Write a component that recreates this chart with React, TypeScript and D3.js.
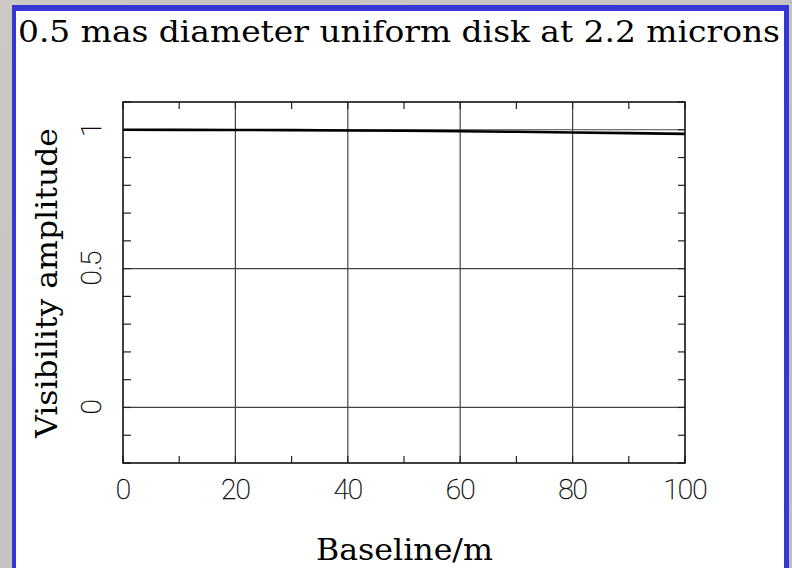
import React from "react";
import * as d3 from "d3";

const W = 792;
const H = 568;

// Visibility of a 0.5 mas uniform disk at 2.2 microns against baseline length
const baselines = [0, 10, 20, 30, 40, 50, 60, 70, 80, 90, 100];
const visibility = [1.0, 0.9998, 0.9994, 0.9987, 0.9976, 0.9963, 0.9946, 0.9927, 0.9904, 0.9879, 0.9851];

const xMajorTicks = [0, 20, 40, 60, 80, 100];
const xTickLabels = ["0", "20", "40", "60", "80", "100"];
const yMajorTicks = [0, 0.5, 1];
const yTickLabels = ["0", "0.5", "1"];

const titleText = "0.5 mas diameter uniform disk at 2.2 microns";
const xLabelText = "Baseline/m";
const yLabelText = "Visibility amplitude";

export default function App() {
  const left = 123;
  const right = 685;
  const top = 102;
  const bottom = 463;

  const x = d3.scaleLinear().domain([0, 100]).range([left, right]);
  const y = d3.scaleLinear().domain([-0.2, 1.1]).range([bottom, top]);

  const xMinor = d3.range(0, 101, 10);
  const yMinor = d3.range(-0.2, 1.1001, 0.1).map((v) => Math.round(v * 10) / 10);

  const line = d3
    .line<number>()
    .x((_, i) => x(baselines[i]))
    .y((d) => y(d));

  const serif = "'DejaVu Serif', serif";
  const thin = "Roboto, 'Liberation Sans', sans-serif";
  const tickLen = 7;

  return (
    <div style={{ position: "absolute", left: 0, top: 0, width: W, height: H, overflow: "hidden" }}>
      <svg width={W} height={H} style={{ display: "block" }}>
        <defs>
          <linearGradient id="bg" x1="0" y1="0" x2="1" y2="1">
            <stop offset="0" stopColor="#cbc8c5" />
            <stop offset="1" stopColor="#bfbfbf" />
          </linearGradient>
        </defs>
        <rect x={0} y={0} width={W} height={H} fill="url(#bg)" />
        <rect x={12} y={5} width={777} height={H + 10} fill="#3636d4" />
        <rect x={16} y={11} width={768} height={H + 10} fill="#ffffff" />

        <text
          x={18}
          y={42}
          fontFamily={serif}
          fontSize={29}
          textLength={762}
          lengthAdjust="spacingAndGlyphs"
          fill="#000"
        >
          {titleText}
        </text>

        {/* grid lines at the major ticks */}
        {xMajorTicks.slice(1, -1).map((v) => (
          <line key={"gx" + v} x1={x(v)} x2={x(v)} y1={top} y2={bottom} stroke="#444" strokeWidth={1.2} />
        ))}
        {yMajorTicks.map((v) => (
          <line key={"gy" + v} x1={left} x2={right} y1={y(v)} y2={y(v)} stroke="#444" strokeWidth={1.2} />
        ))}

        {/* minor ticks on all four sides */}
        {xMinor.map((v) => (
          <g key={"tx" + v}>
            <line x1={x(v)} x2={x(v)} y1={top} y2={top + tickLen} stroke="#222" strokeWidth={1.2} />
            <line x1={x(v)} x2={x(v)} y1={bottom} y2={bottom - tickLen} stroke="#222" strokeWidth={1.2} />
          </g>
        ))}
        {yMinor.map((v) => (
          <g key={"ty" + v}>
            <line x1={left} x2={left + tickLen + 1} y1={y(v)} y2={y(v)} stroke="#222" strokeWidth={1.2} />
            <line x1={right} x2={right - tickLen} y1={y(v)} y2={y(v)} stroke="#222" strokeWidth={1.2} />
          </g>
        ))}

        {/* visibility curve */}
        <path d={line(visibility) || ""} fill="none" stroke="#000" strokeWidth={2.6} />

        {/* frame */}
        <rect x={left} y={top} width={right - left} height={bottom - top} fill="none" stroke="#111" strokeWidth={1.6} />

        {xMajorTicks.map((v, i) => (
          <text
            key={"lx" + v}
            x={x(v)}
            y={499}
            textAnchor="middle"
            fontFamily={thin}
            fontWeight={100}
            fontSize={28}
            letterSpacing={-1}
            fill="#000"
            stroke="#000"
            strokeWidth={0.35}
          >
            {xTickLabels[i]}
          </text>
        ))}
        {yMajorTicks.map((v, i) => (
          <text
            key={"ly" + v}
            transform={`translate(101, ${y(v)}) rotate(-90)`}
            textAnchor="middle"
            fontFamily={thin}
            fontWeight={100}
            fontSize={28}
            letterSpacing={-1}
            fill="#000"
            stroke="#000"
            strokeWidth={0.35}
          >
            {yTickLabels[i]}
          </text>
        ))}

        <text
          x={316}
          y={560}
          fontFamily={serif}
          fontSize={30}
          textLength={177}
          lengthAdjust="spacingAndGlyphs"
          fill="#000"
        >
          {xLabelText}
        </text>
        <text
          transform={`translate(57, 438) rotate(-90)`}
          fontFamily={serif}
          fontSize={30}
          textLength={310}
          lengthAdjust="spacingAndGlyphs"
          fill="#000"
        >
          {yLabelText}
        </text>
      </svg>
    </div>
  );
}
